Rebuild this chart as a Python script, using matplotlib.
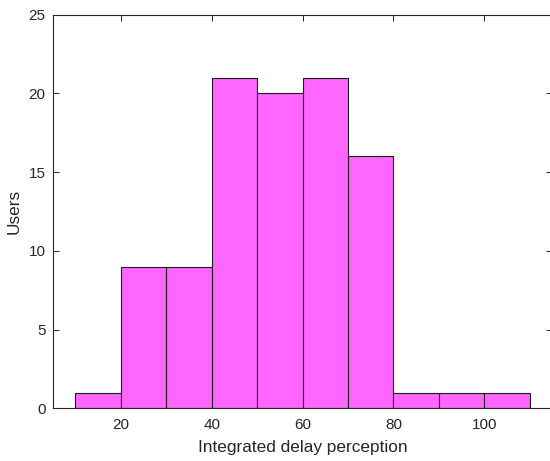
import matplotlib
matplotlib.use("Agg")
import matplotlib.pyplot as plt

# histogram bins (left edges) and user counts per bin
bin_edges = [10, 20, 30, 40, 50, 60, 70, 80, 90, 100, 110]
counts = [1, 9, 9, 21, 20, 21, 16, 1, 1, 1]
x_ticks = [20, 40, 60, 80, 100]
y_ticks = [0, 5, 10, 15, 20, 25]

plt.rcParams["font.family"] = ["Liberation Sans", "DejaVu Sans"]
axis_col = "#262626"

fig = plt.figure(figsize=(5.5, 4.61), dpi=100)
ax = fig.add_axes([0.0958, 0.1143, 0.9086, 0.8538])

widths = [b - a for a, b in zip(bin_edges[:-1], bin_edges[1:])]
ax.bar(bin_edges[:-1], counts, width=widths, align="edge",
       color="#ff66ff", edgecolor="#1a1a1a", linewidth=0.8)

ax.set_xlim(5, 115)
ax.set_ylim(0, 25)
ax.set_xticks(x_ticks)
ax.set_yticks(y_ticks)
ax.tick_params(direction="in", length=4, width=0.7, colors=axis_col,
               labelsize=11, top=True, right=True, pad=5)
ax.tick_params(axis="x", pad=7)
for s in ax.spines.values():
    s.set_color(axis_col)
    s.set_linewidth(0.8)

ax.set_xlabel("Integrated delay perception", fontsize=12.4, color=axis_col,
              labelpad=6)
ax.set_ylabel("Users", fontsize=12.4, color=axis_col, labelpad=5)

fig.savefig("out.png", dpi=100)
